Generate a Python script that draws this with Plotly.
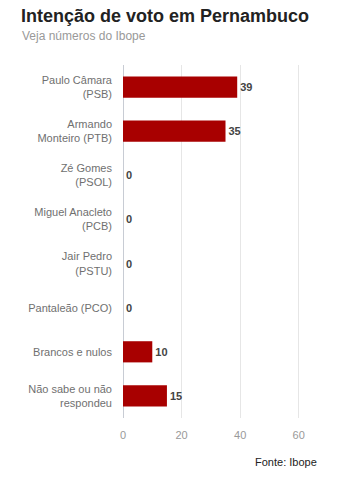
import plotly.graph_objects as go

categories = ["Paulo Câmara<br>(PSB)", "Armando<br>Monteiro (PTB)", "Zé Gomes<br>(PSOL)",
              "Miguel Anacleto<br>(PCB)", "Jair Pedro<br>(PSTU)", "Pantaleão (PCO)",
              "Brancos e nulos", "Não sabe ou não<br>respondeu"]
values = [39, 35, 0, 0, 0, 0, 10, 15]
x_ticks = [0, 20, 40, 60]

font_family = "Liberation Sans, Arial, sans-serif"

fig = go.Figure(go.Bar(
    x=values, y=categories, orientation="h",
    marker=dict(color="#a80000", line=dict(width=0)),
    text=[str(v) for v in values], textposition="outside",
    textfont=dict(family=font_family, size=11, color="#444444"),
    texttemplate="<b>%{text}</b>",
    cliponaxis=False,
    hoverinfo="skip",
))

W, H = 346, 503
L, R, T, B = 123, 18, 65, 85

fig.update_layout(
    width=W, height=H,
    margin=dict(l=L, r=R, t=T, b=B),
    paper_bgcolor="white", plot_bgcolor="white",
    font=dict(family=font_family, size=11, color="#666666"),
    bargap=0.52,
    showlegend=False,
    xaxis=dict(range=[0, 70], tickvals=x_ticks, showgrid=True, gridcolor="#e6e6e6",
               gridwidth=1, zeroline=True, zerolinecolor="#c8ccd4", zerolinewidth=1,
               showline=False, ticks="", ticklabelstandoff=9,
               tickfont=dict(size=11, color="#999999"),
               layer="above traces", fixedrange=True),
    yaxis=dict(autorange="reversed", showgrid=False, zeroline=False, ticks="",
               ticklabelstandoff=10,
               tickfont=dict(size=11, color="#707070"), fixedrange=True),
)

plot_h = H - T - B
plot_w = W - L - R
def px_x(px):
    return (px - L) / plot_w
def px_y(py):
    return (H - B - py) / plot_h

fig.layout.annotations = [
    dict(text="<b>Intenção de voto em Pernambuco</b>", x=px_x(19), y=px_y(16),
         xref="paper", yref="paper", xanchor="left", yanchor="middle", showarrow=False,
         font=dict(size=18, color="#222222", family=font_family)),
    dict(text="Veja números do Ibope", x=px_x(20), y=px_y(36),
         xref="paper", yref="paper", xanchor="left", yanchor="middle", showarrow=False,
         font=dict(size=12, color="#999999", family=font_family)),
    dict(text="Fonte: Ibope", x=px_x(319), y=px_y(462),
         xref="paper", yref="paper", xanchor="right", yanchor="middle", showarrow=False,
         font=dict(size=11, color="#222222", family=font_family)),
]

fig.write_html("out.html")
